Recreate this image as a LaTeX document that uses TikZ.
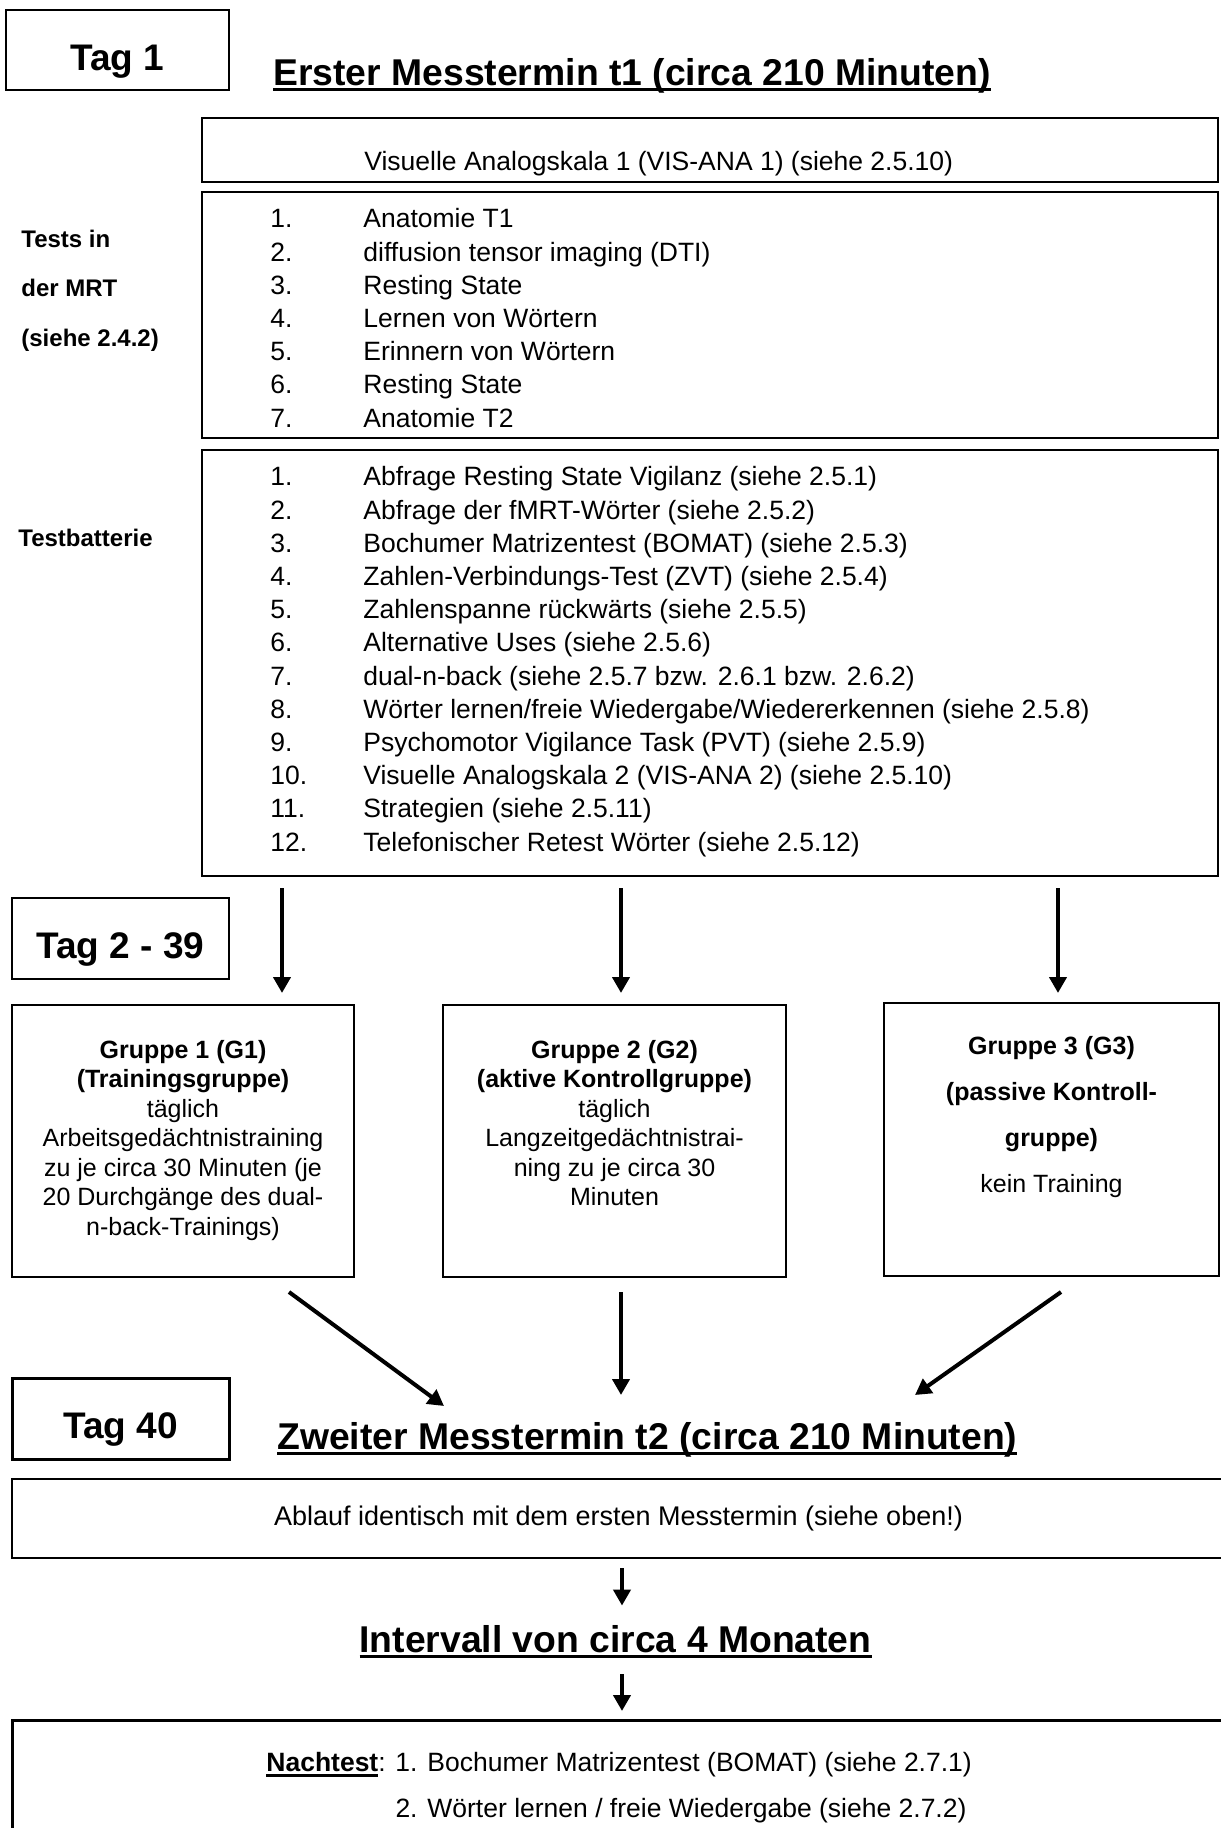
\documentclass[tikz,border=0pt]{standalone}
\usepackage{fontspec}
\setmainfont{Liberation Sans}
\usetikzlibrary{arrows.meta,positioning}

\newsavebox{\hulbox}
\newcommand{\hul}[1]{\sbox{\hulbox}{#1}\rlap{\rule[-2.85pt]{\wd\hulbox}{1.5pt}}\usebox{\hulbox}}
\newcommand{\itm}[2]{\strut\makebox[46.5pt][l]{#1}#2}

\begin{document}
\begin{tikzpicture}[x=0.5pt,y=-0.5pt,
    box/.style={draw,line width=0.75pt,inner sep=0pt,outer sep=0pt,anchor=north west},
    fatbox/.style={box,line width=1.5pt},
    tag/.style={box,font=\fontsize{18.5}{22}\selectfont\bfseries,
                text height=20pt,text depth=0pt},
    head/.style={inner sep=0pt,font=\fontsize{18.65}{22}\selectfont\bfseries},
    txt/.style={inner sep=0pt,font=\fontsize{13.25}{16.6}\selectfont},
    lst/.style={inner sep=0pt,anchor=north west,align=left,
                font=\fontsize{13.25}{16.6}\selectfont},
    lbl/.style={inner sep=0pt,anchor=north west,align=left,
                font=\fontsize{12}{24.75}\selectfont\bfseries},
    grp/.style={inner sep=0pt,anchor=north,align=center,
                font=\fontsize{12.5}{14.75}\selectfont},
    arr/.style={line width=2pt,-{Triangle[width=8.5pt,length=8pt]}}]
  \useasboundingbox (0,0) rectangle (1221,1828);
  \clip (0,0) rectangle (1221,1828);

  \node[tag,minimum width=111.5pt,minimum height=40pt] (tag1) at (6,10) {Tag 1};
  \node[head,anchor=base west] (t1) at (273,85) {\hul{Erster Messtermin t1 (circa 210 Minuten)}};

  \node[box,minimum width=508pt,minimum height=32pt] (vis) at (202,118) {};
  \node[txt,anchor=base west] (vistx) at (364,170.5) {Visuelle Analogskala 1 (VIS-ANA 1) (siehe 2.5.10)};

  \node[box,minimum width=508pt,minimum height=123pt] (mrt) at (202,192) {};
  \node[lst] (mrtl) at (270,204.3) {\itm{1.}{Anatomie T1}\\
    \itm{2.}{diffusion tensor imaging (DTI)}\\
    \itm{3.}{Resting State}\\
    \itm{4.}{Lernen von Wörtern}\\
    \itm{5.}{Erinnern von Wörtern}\\
    \itm{6.}{Resting State}\\
    \itm{7.}{Anatomie T2}};
  \node[lbl] (mrtlbl) at (21,212) {\strut Tests in\\\strut der MRT\\\strut (siehe 2.4.2)};

  \node[box,minimum width=508pt,minimum height=213pt] (tb) at (202,450) {};
  \node[lst] (tbl) at (270,462.3) {\itm{1.}{Abfrage Resting State Vigilanz (siehe 2.5.1)}\\
    \itm{2.}{Abfrage der fMRT-Wörter (siehe 2.5.2)}\\
    \itm{3.}{Bochumer Matrizentest (BOMAT) (siehe 2.5.3)}\\
    \itm{4.}{Zahlen-Verbindungs-Test (ZVT) (siehe 2.5.4)}\\
    \itm{5.}{Zahlenspanne rückwärts (siehe 2.5.5)}\\
    \itm{6.}{Alternative Uses (siehe 2.5.6)}\\
    \itm{7.}{dual-n-back (siehe 2.5.7 bzw. 2.6.1 bzw. 2.6.2)}\\
    \itm{8.}{Wörter lernen/freie Wiedergabe/Wiedererkennen (siehe 2.5.8)}\\
    \itm{9.}{Psychomotor Vigilance Task (PVT) (siehe 2.5.9)}\\
    \itm{10.}{Visuelle Analogskala 2 (VIS-ANA 2) (siehe 2.5.10)}\\
    \itm{11.}{Strategien (siehe 2.5.11)}\\
    \itm{12.}{Telefonischer Retest Wörter (siehe 2.5.12)}};
  \node[txt,anchor=base west,font=\fontsize{12}{14}\selectfont\bfseries] (tblbl) at (18,546.6) {Testbatterie};

  \node[tag,minimum width=108.5pt,minimum height=40.5pt] (tag2) at (12,898) {Tag 2 - 39};

  \node[box,minimum width=171pt,minimum height=136pt] (g1) at (12,1005) {};
  \node[box,minimum width=171.5pt,minimum height=136pt] (g2) at (443,1005) {};
  \node[box,minimum width=167.5pt,minimum height=136.5pt] (g3) at (884,1003) {};
  \node[grp,below=16pt of g1.north] (g1tx) {\strut\textbf{Gruppe 1 (G1)}\\
    \strut\textbf{(Trainingsgruppe)}\\
    \strut täglich\\
    \strut Arbeitsgedächtnistraining\\
    \strut zu je circa 30 Minuten (je\\
    \strut 20 Durchgänge des dual-\\
    \strut n-back-Trainings)};
  \node[grp,below=16pt of g2.north] (g2tx) {\strut\textbf{Gruppe 2 (G2)}\\
    \strut\textbf{(aktive Kontrollgruppe)}\\
    \strut täglich\\
    \strut Langzeitgedächtnistrai-\\
    \strut ning zu je circa 30\\
    \strut Minuten};
  \node[grp,below=9.4pt of g3.north,font=\fontsize{12.5}{23}\selectfont] (g3tx) {\strut\textbf{Gruppe 3 (G3)}\\
    \strut\textbf{(passive Kontroll-}\\
    \strut\textbf{gruppe)}\\
    \strut kein Training};

  \coordinate (c1) at (282,0);
  \coordinate (c2) at (621,0);
  \coordinate (c3) at (1058,0);
  \coordinate (c4) at (622,0);
  \draw[arr,shorten <=6pt,shorten >=6pt] (tb.south -| c1) -- (g1.north -| c1);
  \draw[arr,shorten <=6pt,shorten >=6pt] (tb.south -| c2) -- (g2.north -| c2);
  \draw[arr,shorten <=6pt,shorten >=5pt] (tb.south -| c3) -- (g3.north -| c3);

  \coordinate (d1) at (289,1292);
  \coordinate (e1) at (444,1406);
  \coordinate (d2) at (621,1292);
  \coordinate (e2) at (621,1395);
  \coordinate (d3) at (1061,1292);
  \coordinate (e3) at (915,1395);
  \draw[arr] (d1) -- (e1);
  \draw[arr] (d2) -- (e2);
  \draw[arr] (d3) -- (e3);

  \node[tag,line width=1.5pt,minimum width=108.5pt,minimum height=40.5pt] (tag40) at (12,1378) {Tag 40};
  \node[head,anchor=base west] (t2) at (277,1449) {\hul{Zweiter Messtermin t2 (circa 210 Minuten)}};
  \node[box,minimum width=606.5pt,minimum height=39.5pt,font=\fontsize{13.5}{16}\selectfont] (abl) at (12,1479) {Ablauf identisch mit dem ersten Messtermin (siehe oben!)};

  \node[head,anchor=base] (iv) at (615.5,1652) {\hul{Intervall von circa 4 Monaten}};
  \node[fatbox,minimum width=606.5pt,minimum height=65pt] (nt) at (12,1720) {};
  \node[lst,font=\fontsize{13.25}{23}\selectfont] (nttx) at (266,1738.8) {\strut\hul{\textbf{Nachtest}}: 1. Bochumer Matrizentest (BOMAT) (siehe 2.7.1)\\
    \strut\hphantom{\textbf{Nachtest}: }2. Wörter lernen / freie Wiedergabe (siehe 2.7.2)};

  \draw[arr,shorten <=5pt,shorten >=9.5pt] (abl.south -| c4) -- (iv.north -| c4);
  \draw[arr,shorten <=8pt,shorten >=4.5pt] (iv.south -| c4) -- (nt.north -| c4);
\end{tikzpicture}
\end{document}
